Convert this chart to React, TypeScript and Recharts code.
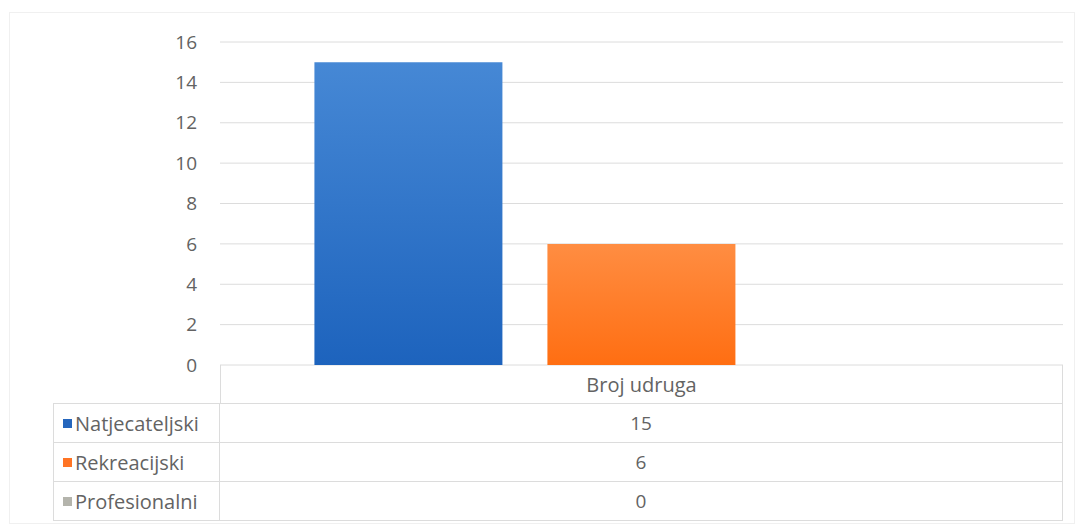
import React from "react";
import { BarChart, Bar, XAxis, YAxis, CartesianGrid } from "recharts";

const CATEGORIES = ["Broj udruga"];
const SERIES = ["Natjecateljski", "Rekreacijski", "Profesionalni"];
const NATJECATELJSKI = [15];
const REKREACIJSKI = [6];
const PROFESIONALNI = [0];
const Y_TICKS = [0, 2, 4, 6, 8, 10, 12, 14, 16];

const VALUES = [NATJECATELJSKI, REKREACIJSKI, PROFESIONALNI];

const COLORS = [
  { id: "g1", start: "#4688d5", end: "#1d63bd", swatch: "#2566bd" },
  { id: "g2", start: "#ff8d42", end: "#ff6e12", swatch: "#ff7424" },
  { id: "g3", start: "#b8b8b8", end: "#a0a0a0", swatch: "#b4b4ac" },
];

const FONT = "'Open Sans', sans-serif";
const TEXT = "#636363";
const LINE = "#dcdcdc";

// chart rows built from the arrays above
const data = CATEGORIES.map((name, i) => {
  const row: Record<string, string | number> = { name };
  SERIES.forEach((s, k) => {
    row[s] = VALUES[k][i];
  });
  return row;
});

const DataTable: React.FC = () => {
  const left = 53;
  const split = 220;
  const right = 1063;
  const top = 365;
  const headH = 38;
  const rowH = 39;
  return (
    <div style={{ position: "absolute", left: 0, top: 0, fontFamily: FONT, color: TEXT }}>
      <div
        style={{
          position: "absolute",
          left: split,
          top,
          width: right - split,
          height: headH,
          borderLeft: `1px solid ${LINE}`,
          borderRight: `1px solid ${LINE}`,
          boxSizing: "border-box",
          display: "flex",
          alignItems: "center",
          justifyContent: "center",
          fontSize: 20,
        }}
      >
        {CATEGORIES[0]}
      </div>
      {SERIES.map((s, k) => (
        <div
          key={s}
          style={{
            position: "absolute",
            left,
            top: top + headH + k * rowH,
            width: right - left,
            height: rowH + 1,
            boxSizing: "border-box",
            border: `1px solid ${LINE}`,
            display: "flex",
          }}
        >
          <div
            style={{
              width: split - left - 1,
              borderRight: `1px solid ${LINE}`,
              display: "flex",
              alignItems: "center",
              paddingLeft: 9,
              boxSizing: "border-box",
              fontSize: 20,
              whiteSpace: "nowrap",
            }}
          >
            <span
              style={{
                display: "inline-block",
                width: 9,
                height: 9,
                background: COLORS[k].swatch,
                marginRight: 3,
              }}
            />
            {s}
          </div>
          <div
            style={{
              flex: 1,
              display: "flex",
              alignItems: "center",
              justifyContent: "center",
              fontSize: 19,
            }}
          >
            {VALUES[k][0]}
          </div>
        </div>
      ))}
    </div>
  );
};

const App: React.FC = () => {
  return (
    <div
      style={{
        position: "absolute",
        left: 0,
        top: 0,
        width: 1079,
        height: 528,
        background: "#fff",
      }}
    >
      <div
        style={{
          position: "absolute",
          left: 9,
          top: 12,
          width: 1066,
          height: 512,
          border: "1px solid #f0f0f0",
          boxSizing: "border-box",
        }}
      />
      <div style={{ position: "absolute", left: 0, top: 0 }}>
        <BarChart
          width={1079}
          height={528}
          data={data}
          margin={{ top: 42, right: 16, bottom: 163, left: 0 }}
          barCategoryGap="11.2%"
          barGap={45}
        >
          <defs>
            {COLORS.map(({ id, start, end }) => (
              <linearGradient id={id} key={id} x1="0" y1="0" x2="0" y2="1">
                <stop offset="0%" stopColor={start} />
                <stop offset="100%" stopColor={end} />
              </linearGradient>
            ))}
          </defs>
          <CartesianGrid vertical={false} stroke={LINE} />
          <XAxis dataKey="name" hide />
          <YAxis
            width={220}
            domain={[0, 16]}
            ticks={Y_TICKS}
            axisLine={false}
            tickLine={false}
            tickSize={0}
            tickMargin={23}
            tick={{ fill: TEXT, fontSize: 19, fontFamily: FONT }}
          />
          {SERIES.map((s, k) => (
            <Bar key={s} dataKey={s} fill={`url(#${COLORS[k].id})`} isAnimationActive={false} />
          ))}
        </BarChart>
      </div>
      <DataTable />
    </div>
  );
};

export default App;
